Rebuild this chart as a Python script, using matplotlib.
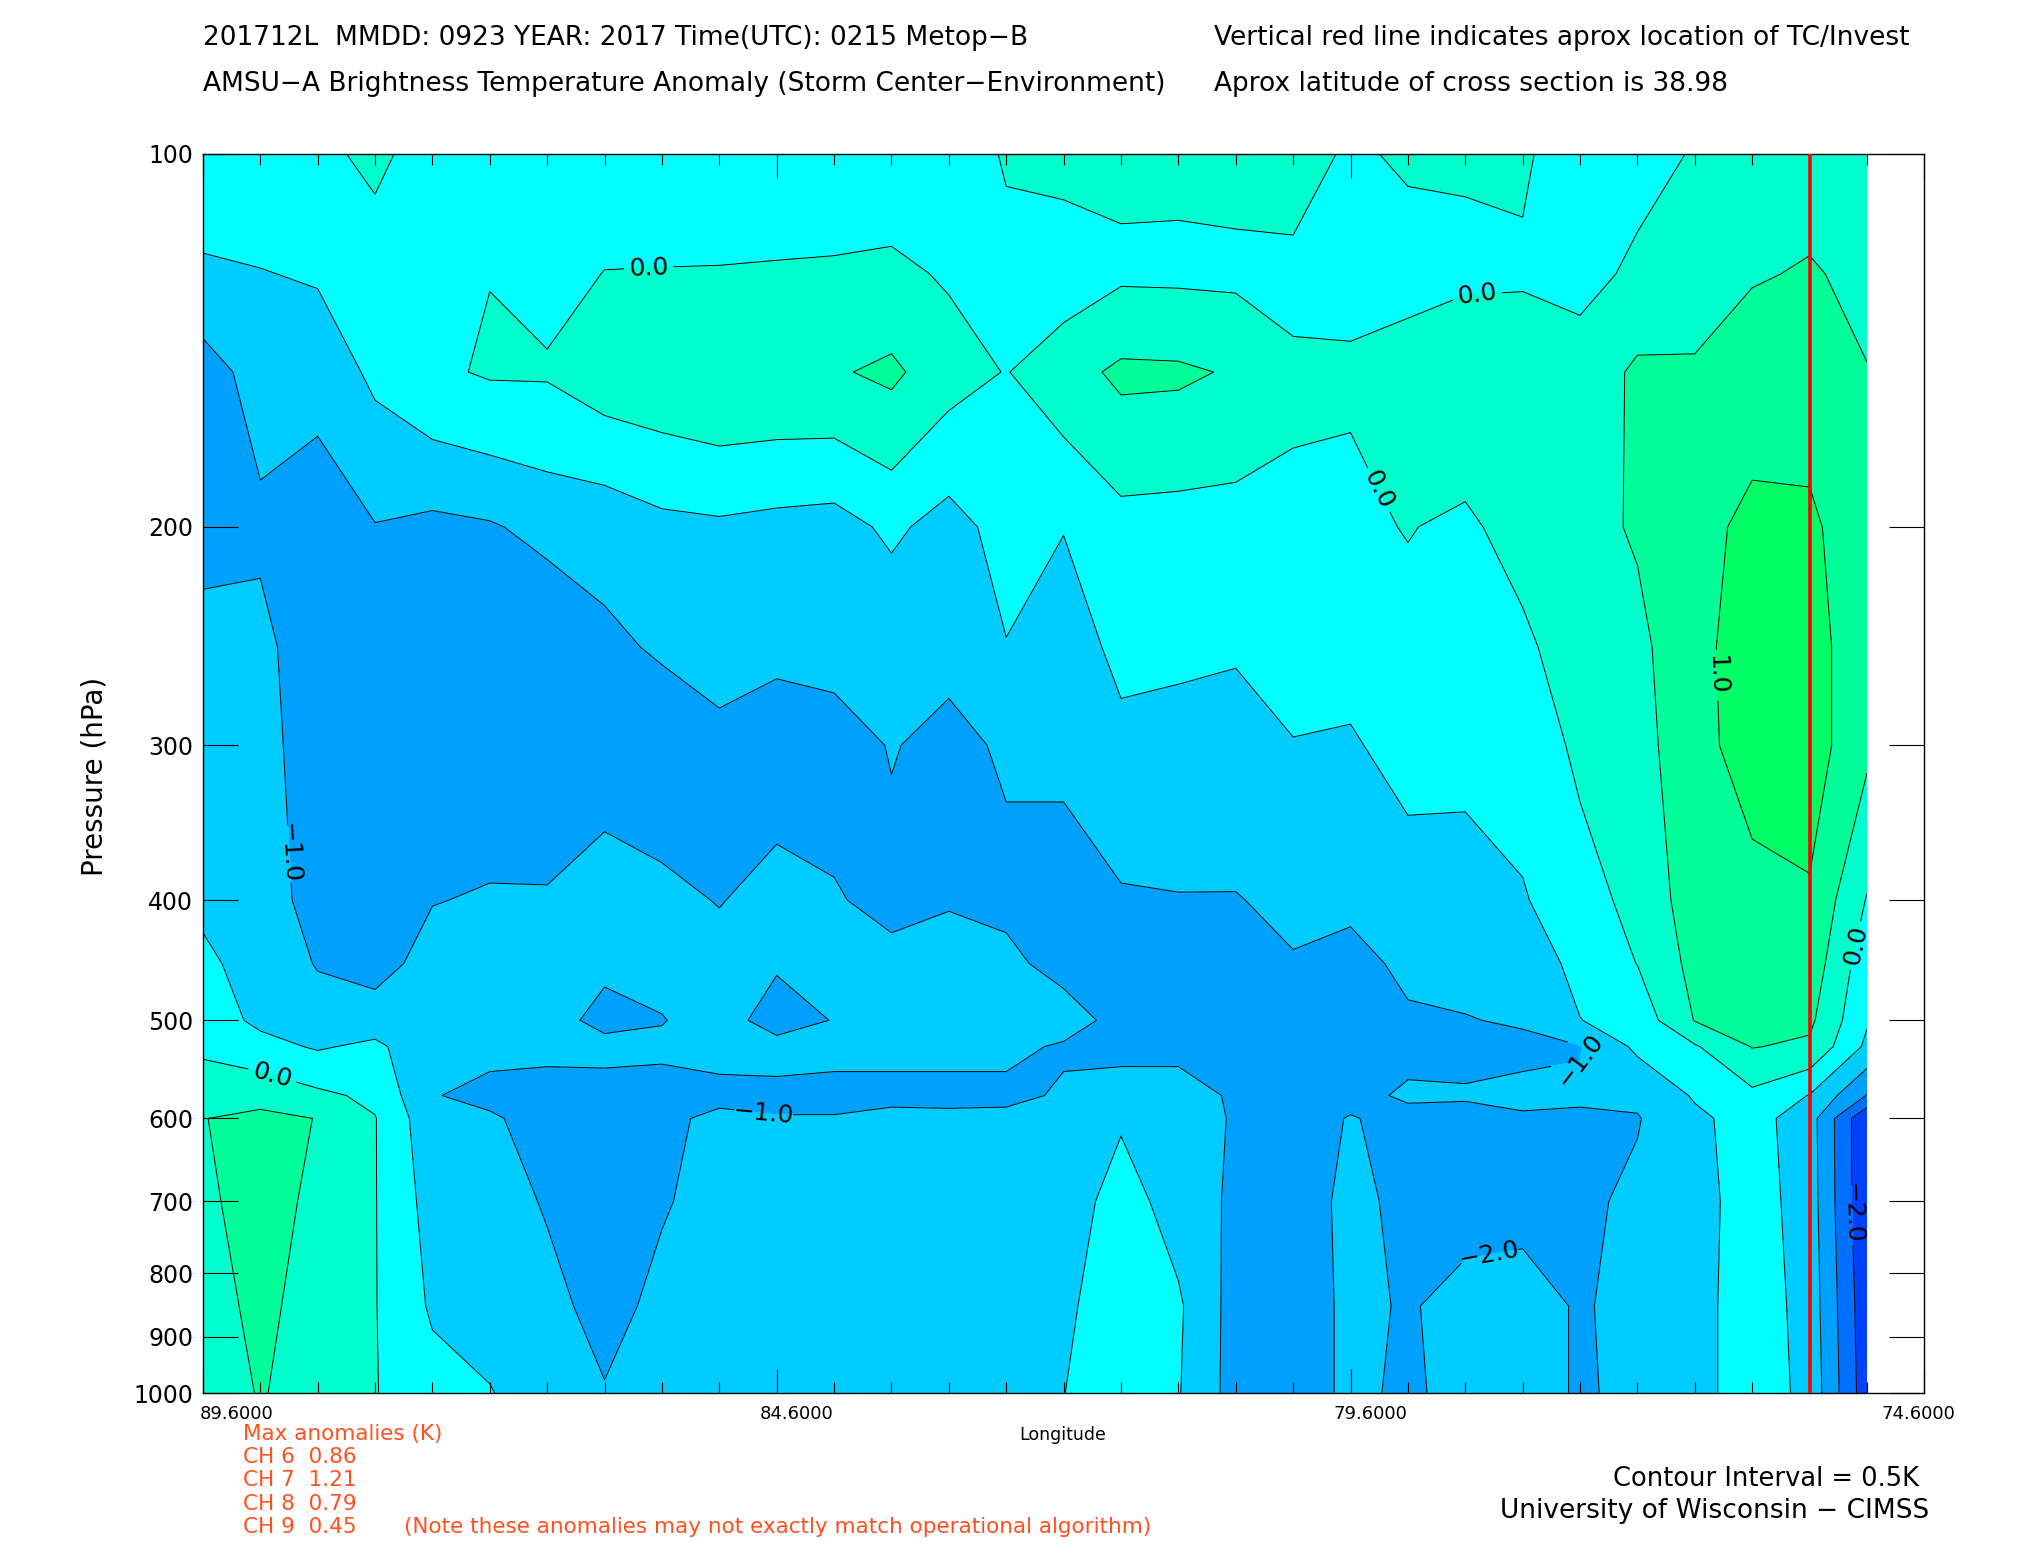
import numpy as np
import matplotlib
matplotlib.use('Agg')
import matplotlib.pyplot as plt
import matplotlib.transforms as mtransforms
from matplotlib.ticker import FixedLocator, NullLocator, FormatStrFormatter

plt.rcParams['font.family'] = ['DejaVu Sans']

# grid of the cross section
lons = [89.6, 89.1, 88.6, 88.1, 87.6, 87.1, 86.6, 86.1, 85.6, 85.1,
        84.6, 84.1, 83.6, 83.1, 82.6, 82.1, 81.6, 81.1, 80.6, 80.1,
        79.6, 79.1, 78.6, 78.1, 77.6, 77.1, 76.6, 76.1, 75.6, 75.1]
pressure = [100, 125, 150, 200, 250, 300, 400, 450, 500, 525, 575, 600, 700, 850, 1000]

# brightness temperature anomaly (K), one list per pressure level, west -> east
anom_100 = [-0.01, -0.15, -0.1, 0.1, -0.2, -0.25, -0.25, -0.25, -0.3, -0.35,
            -0.35, -0.3, -0.3, -0.3, 0.05, 0.15, 0.1, 0.1, 0.15, 0.15,
            -0.05, 0.05, 0.05, 0.05, -0.2, -0.1, 0.02, 0.3, 0.35, 0.3]
anom_125 = [-0.615, -0.52, -0.45, -0.22, -0.15, -0.01, -0.15, 0.01, 0.02, 0.03,
            0.05, 0.06, 0.1, -0.05, -0.15, -0.27, -0.08, -0.09, -0.1, -0.08,
            -0.1, -0.15, -0.1, -0.05, -0.1, 0.06, 0.3, 0.47, 0.53, 0.42]
anom_150 = [-1.22, -0.8, -0.81, -0.4, -0.083, 0.05, 0.05, 0.28, 0.35, 0.46,
            0.435, 0.45, 0.6, 0.2, -0.02, 0.3, 0.6, 0.58, 0.45, 0.05,
            0.05, 0.2, 0.4, 0.25, 0.15, 0.6, 0.55, 0.7, 0.75, 0.51]
anom_200 = [-1.3, -1.1, -1.31, -1.02, -1.125, -1.05, -0.85, -0.83, -0.63, -0.58,
            -0.65, -0.7, -0.4, -0.7, -0.3, -0.48, -0.17, -0.2, -0.21, -0.06,
            -0.09, 0.02, -0.09, 0.2, 0.35, 0.55, 0.8, 1.15, 1.1, 0.65]
anom_250 = [-0.69, -0.85, -1.35, -1.3, -1.35, -1.3, -1.45, -1.1, -0.94, -0.85,
            -0.9, -0.88, -0.9, -0.9, -0.52, -0.8, -0.35, -0.4, -0.45, -0.3,
            -0.3, -0.15, -0.2, -0.11, 0.3, 0.38, 0.85, 1.25, 1.25, 0.6]
anom_300 = [-0.65, -0.8, -1.3, -1.35, -1.4, -1.35, -1.4, -1.35, -1.3, -1.1,
            -1.23, -1.15, -0.98, -1.1, -0.95, -0.9, -0.65, -0.68, -0.7, -0.52,
            -0.56, -0.3, -0.35, -0.3, 0.1, 0.3, 0.85, 1.2, 1.25, 0.6]
anom_400 = [-0.6, -0.75, -1.2, -1.3, -1.02, -0.95, -0.95, -0.68, -0.89, -1.02,
            -0.85, -0.97, -1.1, -1.02, -1.1, -1.2, -1.05, -1.02, -1.02, -0.9,
            -0.85, -0.78, -0.73, -0.54, -0.2, 0.15, 0.75, 0.85, 0.94, -0.03]
anom_450 = [-0.4, -0.7, -1.03, -1.2, -0.8, -0.8, -0.85, -0.9, -0.85, -0.85,
            -0.95, -0.9, -0.9, -0.9, -0.9, -1.15, -1.2, -1.15, -1.2, -1.03,
            -1.22, -0.85, -0.85, -0.8, -0.35, 0.01, 0.65, 0.75, 0.8, -0.3]
anom_500 = [-0.25, -0.6, -0.8, -0.75, -0.75, -0.75, -0.8, -1.15, -1.02, -0.8,
            -1.2, -0.98, -0.85, -0.85, -0.99, -0.8, -1.15, -1.15, -1.25, -1.2,
            -1.2, -1.09, -1.02, -0.95, -0.51, -0.3, 0.52, 0.6, 0.6, -0.45]
anom_525 = [-0.1, -0.35, -0.55, -0.4, -0.85, -0.9, -0.9, -0.85, -0.92, -0.85,
            -0.85, -0.9, -0.9, -0.9, -0.9, -1.05, -1.1, -1.1, -1.2, -1.25,
            -1.15, -1.1, -1.15, -1.1, -1.02, -0.4, -0.05, 0.52, 0.42, -0.6]
anom_575 = [0.3, 0.35, 0.1, -0.1, -0.98, -1.1, -1.15, -1.2, -1.15, -1.12,
            -1.1, -1.1, -1.1, -1.1, -1.1, -0.95, -0.85, -0.85, -1.05, -1.2,
            -1.1, -0.95, -0.95, -0.9, -0.95, -0.9, -0.45, -0.11, -0.52, -1.52]
anom_600 = [0.49, 0.6, 0.49, 0.02, -0.85, -0.95, -1.15, -1.25, -1.1, -0.9,
            -0.98, -0.98, -0.9, -0.92, -0.9, -0.85, -0.55, -0.75, -1.05, -1.15,
            -0.98, -1.1, -1.15, -1.05, -1.05, -1.03, -0.6, -0.3, -0.78, -2.45]
anom_700 = [0.385, 0.75, 0.365, 0.02, -0.7, -0.75, -1.05, -1.3, -1.05, -0.8,
            -0.85, -0.85, -0.8, -0.85, -0.8, -0.75, -0.3, -0.7, -1.1, -1.2,
            -0.9, -1.1, -1.2, -1.15, -1.1, -0.9, -0.7, -0.25, -0.75, -2.45]
anom_850 = [0.16, 0.7, 0.16, 0.02, -0.57, -0.65, -0.83, -1.2, -0.85, -0.75,
            -0.75, -0.8, -0.75, -0.8, -0.75, -0.6, -0.2, -0.43, -1.2, -1.3,
            -0.88, -1.05, -0.82, -0.8, -1.05, -0.85, -0.7, -0.2, -0.7, -2.35]
anom_1000 = [0.05, 0.55, 0.18, 0.02, -0.3, -0.48, -0.7, -0.96, -0.8, -0.7,
             -0.7, -0.75, -0.75, -0.8, -0.7, -0.51, -0.15, -0.47, -1.2, -1.3,
             -0.88, -1.1, -0.8, -0.8, -1.05, -0.9, -0.7, -0.2, -0.65, -2.3]

anom = np.array([anom_100, anom_125, anom_150, anom_200, anom_250, anom_300,
                 anom_400, anom_450, anom_500, anom_525, anom_575, anom_600,
                 anom_700, anom_850, anom_1000])

levels = [-2.5, -2.0, -1.5, -1.0, -0.5, 0.0, 0.5, 1.0, 1.5]
fill_colors = ['#0040ff', '#0070ff', '#00a0ff', '#00ccff',
               '#00ffff', '#00ffcc', '#00ff99', '#00ff66']

tc_lon = 75.6
channels = ['CH 6', 'CH 7', 'CH 8', 'CH 9']
max_anom = [0.86, 1.21, 0.79, 0.45]

# contour labels as printed on the plot
lab_level = [0.0, 0.0, 0.0, 1.0, 0.0, -1.0, 0.0, -1.0, -1.0, -1.0, -2.0]
lab_text = ['0.0', '0.0', '0.0', '1.0', '0.0', '\u22121.0', '0.0', '\u22121.0',
            '\u22121.0', '\u22122.0', '\u22122.0']
lab_lon = [85.71, 78.50, 79.33, 76.18, 75.21, 88.80, 88.98, 84.71, 77.47, 78.43, 75.19]
lab_p = [125.9, 129.9, 186.1, 262.7, 434.8, 366.0, 548.0, 590.0, 545.0, 741.0, 716.0]

fig = plt.figure(figsize=(20.25, 15.5), dpi=100)
ax = fig.add_axes([0.1002, 0.1010, 0.8501, 0.7998])

ax.contourf(lons, pressure, anom, levels=levels, colors=fill_colors)
# one line set per level so that each label can be put on its own level
line_sets = {}
for lev in levels[1:-1]:
    line_sets[lev] = ax.contour(lons, pressure, anom, levels=[lev], colors='k',
                                linewidths=0.7, linestyles='solid')

ax.set_yscale('log')
ax.set_ylim(1000, 100)
ax.set_xlim(89.6, 74.6)

for lev, txt, lo, pr in zip(lab_level, lab_text, lab_lon, lab_p):
    texts = line_sets[lev].clabel(manual=[(lo, pr)], inline=True,
                                  fmt='%.1f', fontsize=18, colors='k')
    texts[-1].set_text(txt)

ax.axvline(tc_lon, color='#ff0000', linewidth=2.6, zorder=5)

ax.yaxis.set_major_locator(FixedLocator([100, 200, 300, 400, 500, 600, 700, 800, 900, 1000]))
ax.yaxis.set_minor_locator(NullLocator())
ax.yaxis.set_major_formatter(FormatStrFormatter('%d'))
ax.xaxis.set_major_locator(FixedLocator([89.6, 84.6, 79.6, 74.6]))
ax.xaxis.set_minor_locator(FixedLocator(np.arange(74.6, 89.65, 0.5)))
ax.xaxis.set_major_formatter(FormatStrFormatter('%.4f'))

ax.tick_params(axis='both', which='both', direction='in', top=True, right=True, width=0.8)
ax.tick_params(axis='y', which='major', length=25, labelsize=17, pad=7)
ax.tick_params(axis='x', which='major', length=17, labelsize=13, pad=8)
ax.tick_params(axis='x', which='minor', length=8)
for sp in ax.spines.values():
    sp.set_linewidth(1.0)

# the longitude labels sit a little right of their ticks
for lbl, dx in zip(ax.get_xticklabels(), [24, 14, 14, -4]):
    lbl.set_transform(lbl.get_transform() +
                      mtransforms.ScaledTranslation(dx / 72, 0, fig.dpi_scale_trans))

fig.text(0.1001, 0.9758, '201712L  MMDD: 0923 YEAR: 2017 Time(UTC): 0215 Metop\u2212B',
         fontsize=19, va='center')
fig.text(0.5995, 0.9758, 'Vertical red line indicates aprox location of TC/Invest',
         fontsize=19, va='center')
fig.text(0.1001, 0.9458, 'AMSU\u2212A Brightness Temperature Anomaly (Storm Center\u2212Environment)',
         fontsize=19, va='center')
fig.text(0.5995, 0.9458, 'Aprox latitude of cross section is 38.98',
         fontsize=19, va='center')

fig.text(0.0466, 0.499, 'Pressure (hPa)', fontsize=20, rotation=90, ha='center', va='center')
fig.text(0.525, 0.0742, 'Longitude', fontsize=12.5, ha='center', va='center')

red = '#ff5020'
fig.text(0.1199, 0.075, 'Max anomalies (K)', fontsize=15.5, color=red, va='center')
for i, (ch, v) in enumerate(zip(channels, max_anom)):
    fig.text(0.1199, 0.060 - 0.015 * i, f'{ch}  {v:.2f}', fontsize=15.5, color=red, va='center')
fig.text(0.1996, 0.015, '(Note these anomalies may not exactly match operational algorithm)',
         fontsize=15.5, color=red, va='center')

fig.text(0.9477, 0.0458, 'Contour Interval = 0.5K', fontsize=18.5, ha='right', va='center')
fig.text(0.9528, 0.025, 'University of Wisconsin \u2212 CIMSS', fontsize=19, ha='right', va='center')

fig.savefig('out.png', dpi=100)
